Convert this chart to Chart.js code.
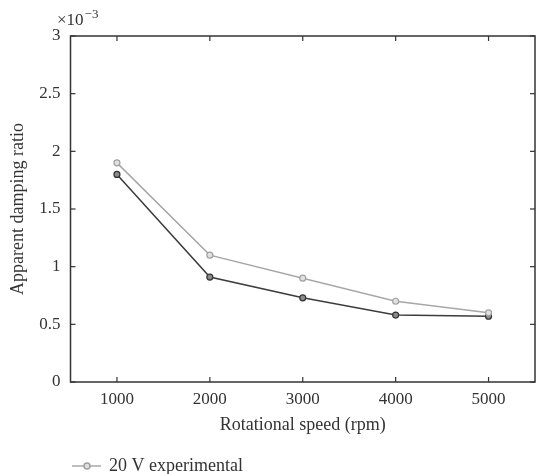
<!DOCTYPE html>
<html>
<head>
<meta charset="utf-8">
<script src="https://cdn.jsdelivr.net/npm/chart.js@4/dist/chart.umd.min.js"></script>
<style>
  html, body { margin: 0; padding: 0; background: #fff; }
  #wrap { width: 536px; height: 474px; }
</style>
</head>
<body>
<div id="wrap"><canvas id="chart" width="536" height="474"></canvas></div>
<script>
// values (y in units of 1e-3)
const speeds = [1000, 2000, 3000, 4000, 5000];
const exp20V = [1.9, 1.1, 0.9, 0.7, 0.6];
const sim20V = [1.8, 0.91, 0.73, 0.58, 0.57];
const xTickValues = [1000, 2000, 3000, 4000, 5000];
const yTickValues = [0, 0.5, 1, 1.5, 2, 2.5, 3];

const FONT = "'Liberation Serif', 'DejaVu Serif', serif";
const INK = '#333333';

const toPoints = (xs, ys) => xs.map((x, i) => ({ x: x, y: ys[i] }));

// closed frame, inward ticks, exponent label and a one-entry legend
const framePlugin = {
  id: 'framePlugin',
  afterDraw(chart) {
    const { ctx, chartArea: a, scales: { x, y } } = chart;
    const seg = (x1, y1, x2, y2) => {
      ctx.beginPath(); ctx.moveTo(x1, y1); ctx.lineTo(x2, y2); ctx.stroke();
    };
    ctx.save();
    ctx.strokeStyle = INK;
    ctx.lineWidth = 1.5;
    ctx.strokeRect(a.left, a.top, a.right - a.left, a.bottom - a.top);
    ctx.lineWidth = 1.2;
    x.ticks.forEach(t => {
      const px = x.getPixelForValue(t.value);
      seg(px, a.bottom, px, a.bottom - 5);
      seg(px, a.top, px, a.top + 5);
    });
    y.ticks.forEach(t => {
      const py = y.getPixelForValue(t.value);
      seg(a.left, py, a.left + 5, py);
      seg(a.right, py, a.right - 5, py);
    });

    // x10^-3 label
    ctx.fillStyle = INK;
    ctx.textBaseline = 'alphabetic';
    ctx.textAlign = 'left';
    ctx.font = '17px ' + FONT;
    ctx.fillText('\u00d710', 57, 25);
    const w = ctx.measureText('\u00d710').width;
    ctx.font = '13px ' + FONT;
    ctx.fillText('\u22123', 57 + w + 1, 18);

    // legend (first series only, the rest is cut off in the original)
    const ds = chart.data.datasets[0];
    const ly = 466;
    ctx.strokeStyle = ds.borderColor;
    ctx.lineWidth = ds.borderWidth;
    seg(72, ly, 101, ly);
    ctx.beginPath();
    ctx.arc(87, ly, 3, 0, Math.PI * 2);
    ctx.fillStyle = ds.pointBackgroundColor;
    ctx.fill();
    ctx.strokeStyle = ds.pointBorderColor;
    ctx.stroke();
    ctx.fillStyle = INK;
    ctx.font = '18px ' + FONT;
    ctx.textBaseline = 'middle';
    ctx.fillText(ds.label, 109, ly);
    ctx.restore();
  }
};

new Chart(document.getElementById('chart'), {
  type: 'line',
  data: {
    datasets: [
      {
        label: '20 V experimental',
        data: toPoints(speeds, exp20V),
        borderColor: '#a8a8a8',
        borderWidth: 1.5,
        pointRadius: 3,
        pointBorderWidth: 1.2,
        pointBackgroundColor: '#e0e0e0',
        pointBorderColor: '#a0a0a0',
        tension: 0
      },
      {
        label: '20 V simulated',
        data: toPoints(speeds, sim20V),
        borderColor: '#3c3c3c',
        borderWidth: 1.5,
        pointRadius: 3,
        pointBorderWidth: 1.2,
        pointBackgroundColor: '#8a8a8a',
        pointBorderColor: '#333333',
        tension: 0
      }
    ]
  },
  options: {
    responsive: false,
    animation: false,
    devicePixelRatio: 1,
    layout: { autoPadding: false, padding: { top: 36, right: 1, bottom: 32, left: 0 } },
    plugins: {
      legend: { display: false },
      tooltip: { enabled: false }
    },
    scales: {
      x: {
        type: 'linear',
        min: 500,
        max: 5500,
        afterBuildTicks: scale => { scale.ticks = xTickValues.map(v => ({ value: v })); },
        afterFit: scale => {
          scale.height = 60;
          scale.paddingLeft = 0;
          scale.paddingRight = 0;
        },
        grid: { display: false, drawTicks: false },
        border: { display: false },
        ticks: {
          padding: 7,
          color: INK,
          font: { family: FONT, size: 17 },
          callback: v => String(v)
        },
        title: {
          display: true,
          text: 'Rotational speed (rpm)',
          color: INK,
          font: { family: FONT, size: 18 },
          padding: { top: 0, bottom: 6 }
        }
      },
      y: {
        min: 0,
        max: 3,
        afterBuildTicks: scale => { scale.ticks = yTickValues.map(v => ({ value: v })); },
        afterFit: scale => {
          scale.width = 70.5;
          scale.paddingTop = 0;
          scale.paddingBottom = 0;
        },
        grid: { display: false, drawTicks: false },
        border: { display: false },
        ticks: {
          padding: 10,
          color: INK,
          font: { family: FONT, size: 17 },
          callback: v => String(v)
        },
        title: {
          display: true,
          text: 'Apparent damping ratio',
          color: INK,
          font: { family: FONT, size: 18 },
          padding: { top: 7, bottom: 0 }
        }
      }
    }
  },
  plugins: [framePlugin]
});
</script>
</body>
</html>
